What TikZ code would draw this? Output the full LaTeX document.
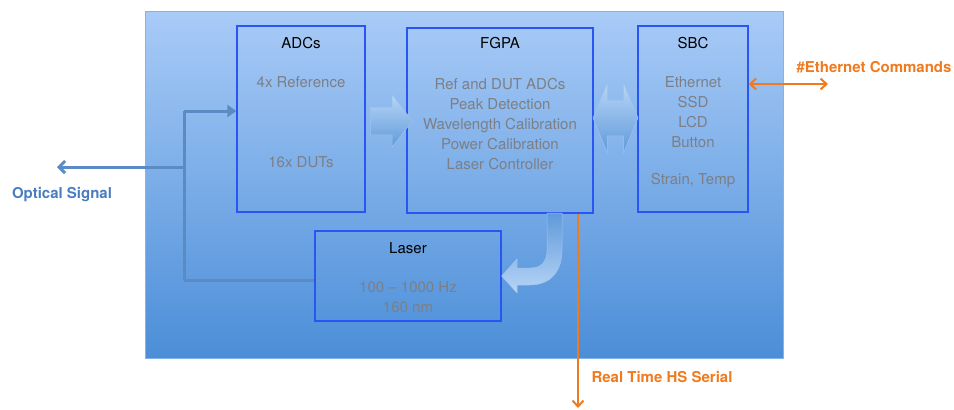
\documentclass[tikz,border=0pt]{standalone}
\usepackage{fontspec}
\setmainfont{TeX Gyre Heros}
\usetikzlibrary{shapes.arrows, arrows.meta}
\newcommand{\unitsize}{1pt}
\definecolor{paneltop}{HTML}{A9CBF7}
\definecolor{panelbot}{HTML}{4B8ED8}
\definecolor{boxblue}{HTML}{2A55F5}
\definecolor{bodygray}{HTML}{7C7F86}
\definecolor{optic}{HTML}{5B8BC4}
\definecolor{opticlabel}{HTML}{4A7DC0}
\definecolor{cmdorange}{HTML}{F07A1E}
\definecolor{arrtop}{HTML}{B8D5F6}
\definecolor{arrbot}{HTML}{5F9ADA}

\begin{document}
\begin{tikzpicture}[yscale=-1]
\useasboundingbox (0,0) rectangle (954*\unitsize,410*\unitsize);
\tikzstyle{every node}=[font=\fontsize{15}{20}\selectfont, inner sep=0pt]
\tikzstyle{box}=[draw=boxblue, line width=1.3pt, rectangle]
\tikzstyle{boxtitle}=[text=black]
\tikzstyle{boxtext}=[text=bodygray, align=center]
\tikzstyle{blockarrow}=[top color=arrtop, bottom color=arrbot, draw=arrtop!70!arrbot, line width=0.5pt]
\tikzstyle{opticline}=[draw=optic, line width=3pt]
\tikzstyle{cmdline}=[draw=cmdorange, line width=2pt]
\tikzstyle{cmdlabel}=[text=cmdorange, font=\fontsize{15}{20}\selectfont\bfseries]

\draw[top color=paneltop, bottom color=panelbot, draw=paneltop!60!panelbot, line width=0.6pt]
  (145*\unitsize,11*\unitsize) rectangle (783*\unitsize,358*\unitsize);

\node[box, minimum width=128*\unitsize, minimum height=186*\unitsize] (adcs) at (301*\unitsize,119*\unitsize) {};
\node[box, minimum width=186*\unitsize, minimum height=185*\unitsize] (fgpa) at (500*\unitsize,120.5*\unitsize) {};
\node[box, minimum width=110*\unitsize, minimum height=186*\unitsize] (sbc) at (693*\unitsize,119*\unitsize) {};
\node[box, minimum width=186*\unitsize, minimum height=90*\unitsize] (laser) at (408*\unitsize,276*\unitsize) {};

\node[boxtitle] (adcstitle) at (301*\unitsize,43*\unitsize) {ADCs};
\node[boxtext] (adcsref) at (301*\unitsize,82*\unitsize) {4x Reference};
\node[boxtext] (adcsdut) at (301*\unitsize,162*\unitsize) {16x DUTs};

\node[boxtitle] (fgpatitle) at (500*\unitsize,43*\unitsize) {FGPA};
\node[boxtext] (fgpatext) at (500*\unitsize,124*\unitsize) {Ref and DUT ADCs\\Peak Detection\\Wavelength Calibration\\Power Calibration\\Laser Controller};

\node[boxtitle] (sbctitle) at (693*\unitsize,43*\unitsize) {SBC};
\node[boxtext] (sbctext) at (693*\unitsize,112*\unitsize) {Ethernet\\SSD\\LCD\\Button};
\node[boxtext] (sbcsensor) at (693*\unitsize,181*\unitsize) {Strain, Temp};

\node[boxtitle] (lasertitle) at (408*\unitsize,248*\unitsize) {Laser};
\node[boxtext] (lasertext) at (408*\unitsize,297*\unitsize) {100 \textendash{} 1000 Hz\\160 nm};

\node[single arrow, blockarrow, single arrow head extend=12.5*\unitsize, single arrow tip angle=105,
      minimum height=42*\unitsize, inner ysep=13.5*\unitsize, inner xsep=0pt]
  (adcsarrow) at (386*\unitsize,121*\unitsize) {};
\node[double arrow, blockarrow, double arrow head extend=17*\unitsize, double arrow tip angle=135,
      minimum height=45*\unitsize, inner ysep=17.5*\unitsize, inner xsep=0pt]
  (busarrow) at (615.5*\unitsize,118*\unitsize) {};
\draw[blockarrow, top color=arrbot, bottom color=arrtop] (547*\unitsize,213*\unitsize) -- (547*\unitsize,250*\unitsize)
  .. controls (547*\unitsize,262*\unitsize) and (541*\unitsize,268*\unitsize) .. (530*\unitsize,268*\unitsize)
  -- (517*\unitsize,268*\unitsize) -- (517*\unitsize,259*\unitsize) -- (laser.east)
  -- (517*\unitsize,293*\unitsize) -- (517*\unitsize,285*\unitsize) -- (530*\unitsize,285*\unitsize)
  .. controls (550*\unitsize,285*\unitsize) and (562*\unitsize,272*\unitsize) .. (562*\unitsize,250*\unitsize)
  -- (562*\unitsize,213*\unitsize) -- cycle;

\coordinate (jtop) at (184*\unitsize,111*\unitsize);
\coordinate (jbot) at (184*\unitsize,280*\unitsize);
\coordinate (split) at (184*\unitsize,167*\unitsize);
\coordinate (opticout) at (57*\unitsize,167*\unitsize);
\draw[opticline] (jtop) -- (jbot);
\draw[opticline, -{Triangle[length=9pt,width=12pt]}] (jtop) -- (jtop -| adcs.west);
\draw[opticline] (jbot) -- (jbot -| laser.west);
\draw[opticline, -{Straight Barb[length=6pt,width=12pt]}] (split) -- (opticout);
\node[text=opticlabel, font=\fontsize{15}{20}\selectfont\bfseries] (opticlbl) at (62*\unitsize,195*\unitsize) {Optical Signal};

\coordinate (ethout) at (828*\unitsize,84*\unitsize);
\draw[cmdline, {Straight Barb[length=6pt,width=11pt]}-{Straight Barb[length=6pt,width=11pt]}] (sbc.east |- ethout) -- (ethout);
\node[cmdlabel] (ethlbl) at (874*\unitsize,67*\unitsize) {\#Ethernet Commands};

\coordinate (serialout) at (578*\unitsize,408*\unitsize);
\draw[cmdline, -{Straight Barb[length=6pt,width=11pt]}] (fgpa.south -| serialout) -- (serialout);
\node[cmdlabel] (seriallbl) at (662*\unitsize,377*\unitsize) {Real Time HS Serial};
\end{tikzpicture}
\end{document}
